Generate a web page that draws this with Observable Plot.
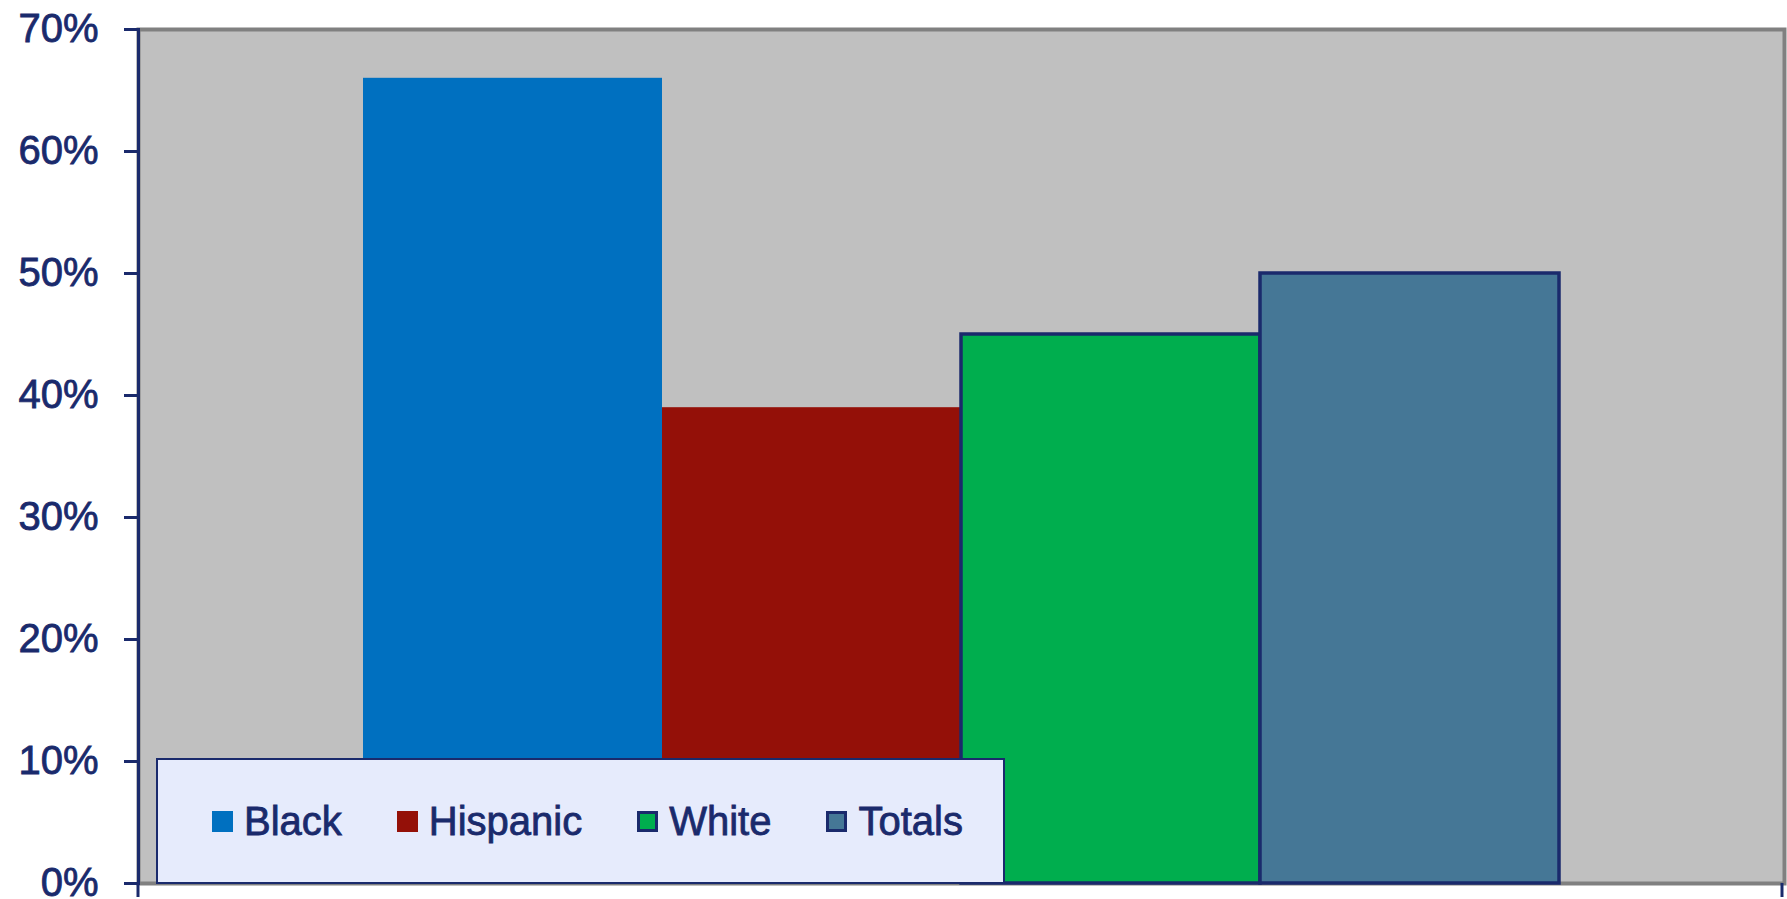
<!DOCTYPE html>
<html><head><meta charset="utf-8">
<script src="https://cdn.jsdelivr.net/npm/d3@7"></script>
<script src="https://cdn.jsdelivr.net/npm/@observablehq/plot@0.6"></script>
<style>
body{margin:0;background:#fff;font-family:"Liberation Sans",Arial,sans-serif;}
#wrap{position:relative;width:1787px;height:899px;overflow:hidden;background:#fff}
#legend{position:absolute;left:156px;top:758px;width:849px;height:126px;box-sizing:border-box;border:2.5px solid #1a2a6c;background:#e6ebfc;display:flex;align-items:center;padding-left:54px;}
.item{display:flex;align-items:center;margin-right:55px;font-size:40px;color:#1a2a6c;line-height:1;-webkit-text-stroke:0.8px #1a2a6c}
.sw{width:21px;height:21px;box-sizing:border-box;margin-right:11px}
</style></head><body><div id="wrap"></div>
<script>
const series = ["Black", "Hispanic", "White", "Totals"];
const values = [0.66, 0.39, 0.45, 0.50];
const colors = ["#0070c0", "#941008", "#00ae4e", "#457796"];
const outlined = [false, false, true, true];
const yTicks = [0, 0.1, 0.2, 0.3, 0.4, 0.5, 0.6, 0.7];

const navy = "#1a2a6c";
const data = series.map((s, i) => ({series: s, value: values[i], color: colors[i], outlined: outlined[i]}));

const W = 1787, H = 899, mL = 138, mT = 29, mR = 3, mB = 16;

const chart = Plot.plot({
  width: W, height: H,
  marginLeft: mL, marginTop: mT, marginRight: mR, marginBottom: mB,
  style: {color: navy, fontFamily: "'Liberation Sans', Arial, sans-serif", fontSize: "40px", background: "transparent", overflow: "visible"},
  x: {type: "band", domain: series, paddingInner: 0, paddingOuter: 0.75, axis: null},
  y: {domain: [0, 0.7], axis: null},
  marks: [
    Plot.frame({fill: "#c0c0c0"}),
    Plot.frame({stroke: "#808080", strokeWidth: 4}),
    Plot.barY(data, {x: "series", y: "value", fill: "color",
      stroke: d => d.outlined ? navy : "none", strokeWidth: 3.5, inset: 0}),
    Plot.frame({anchor: "left", stroke: navy, strokeWidth: 3}),
    Plot.axisY({ticks: yTicks, tickFormat: d3.format(".0%"), tickSize: 14, tickPadding: 26,
      label: null, fontSize: 40, strokeWidth: 3, stroke: navy, fill: navy})
  ]
});

const svg = d3.select(chart);
// thicken tick label glyphs slightly, like the reference
svg.selectAll("text").attr("stroke", navy).attr("stroke-width", 0.8).attr("paint-order", "stroke");
// small category-axis end ticks below the frame
[mL, W - mR - 2].forEach(x => {
  svg.append("line").attr("x1", x).attr("x2", x).attr("y1", H - mB).attr("y2", H - 2)
    .attr("stroke", navy).attr("stroke-width", 3);
});

const wrap = document.getElementById("wrap");
wrap.appendChild(chart);

const legend = document.createElement("div");
legend.id = "legend";
series.forEach((s, i) => {
  const item = document.createElement("div");
  item.className = "item";
  const sw = document.createElement("span");
  sw.className = "sw";
  sw.style.background = colors[i];
  if (outlined[i]) sw.style.border = `3px solid ${navy}`;
  const t = document.createElement("span");
  t.textContent = s;
  item.appendChild(sw); item.appendChild(t);
  legend.appendChild(item);
});
wrap.appendChild(legend);
</script>
</body></html>
